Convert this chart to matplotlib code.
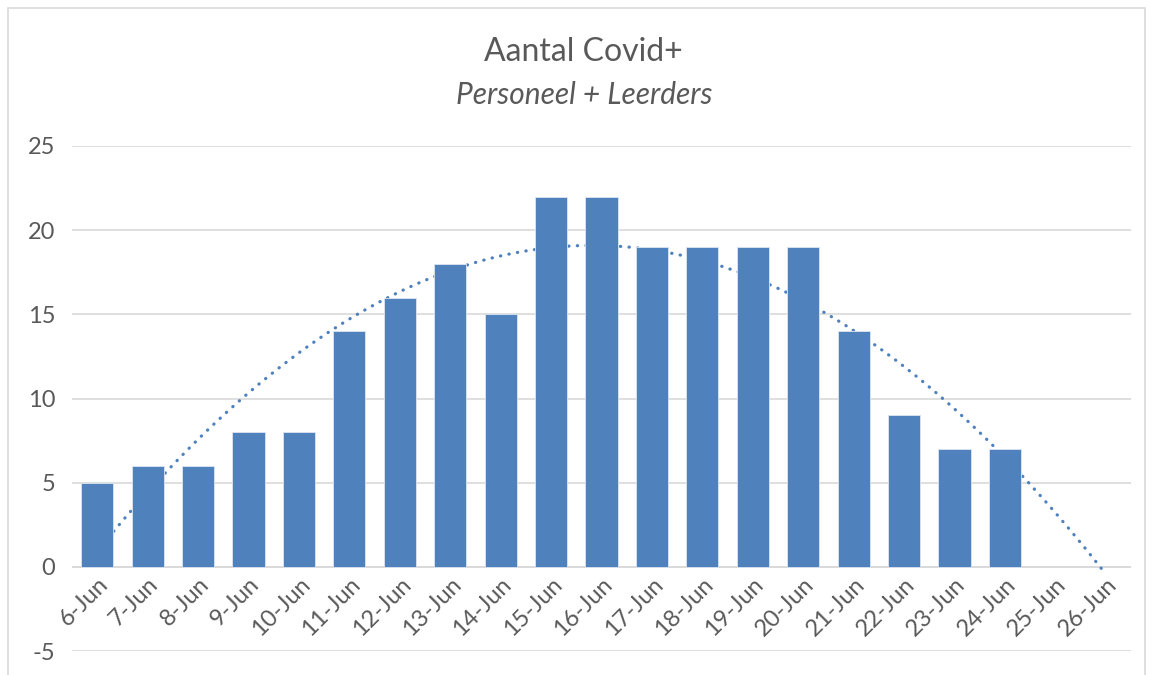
import matplotlib.pyplot as plt
import numpy as np
from matplotlib.patches import Rectangle

# Data
dates = ['6-Jun', '7-Jun', '8-Jun', '9-Jun', '10-Jun', '11-Jun', '12-Jun',
         '13-Jun', '14-Jun', '15-Jun', '16-Jun', '17-Jun', '18-Jun', '19-Jun',
         '20-Jun', '21-Jun', '22-Jun', '23-Jun', '24-Jun', '25-Jun', '26-Jun']
cases = [5, 6, 6, 8, 8, 14, 16, 18, 15, 22, 22, 19, 19, 19, 19, 14, 9, 7, 7]

bar_color = '#4F81BD'
text_color = '#595959'
grid_color = '#D9D9D9'

plt.rcParams['font.family'] = ['Lato', 'DejaVu Sans']
plt.rcParams['axes.unicode_minus'] = False

fig = plt.figure(figsize=(11.53, 6.75), dpi=100)
W, H = 1153, 675
ax = fig.add_axes([72 / W, 1 - 651 / H, (1131 - 72) / W, (651 - 146) / H])

x_bars = np.arange(len(cases))
ax.bar(x_bars, cases, width=0.64, color=bar_color, edgecolor='#DCE6F2',
       linewidth=0.6, zorder=3)

# polynomial (order 2) trendline, forecast forward 2 periods
coef = np.polyfit(x_bars + 1, cases, 2)
x_trend = np.linspace(0, len(dates) - 1, 300)
ax.plot(x_trend, np.polyval(coef, x_trend + 1), color=bar_color, lw=2.3,
        linestyle=(0, (0.1, 2.6)), dash_capstyle='round', zorder=2)

ax.set_xlim(-0.5, len(dates) - 0.5)
ax.set_ylim(-5, 25)
ax.set_yticks(range(-5, 26, 5))

ax.grid(axis='y', color=grid_color, lw=1.2, zorder=0)
for s in ax.spines.values():
    s.set_visible(False)
# category labels sit on the zero line
ax.spines['bottom'].set_position(('data', 0))
ax.axhline(0, color=grid_color, lw=1.2, zorder=1)

ax.set_xticks(range(len(dates)))
ax.set_xticklabels(dates)
ax.tick_params(axis='both', length=0, labelsize=17, colors=text_color)
ax.tick_params(axis='x', pad=5)
ax.tick_params(axis='y', pad=12)
plt.setp(ax.get_xticklabels(), rotation=45, ha='right', va='top',
         rotation_mode='anchor')

fig.text(583 / W, 1 - 52 / H, 'Aantal Covid+', ha='center', va='center',
         fontsize=23, color=text_color)
fig.text(584 / W, 1 - 95 / H, 'Personeel + Leerders', ha='center',
         va='center', fontsize=21.5, style='italic', color=text_color)

# chart border
fig.patches.append(Rectangle((8 / W, -0.05), (1145 - 8) / W, 1.05 - 8 / H,
                             transform=fig.transFigure, fill=False,
                             edgecolor='#D9D9D9', lw=1.2))

fig.savefig('out.png', dpi=100)
